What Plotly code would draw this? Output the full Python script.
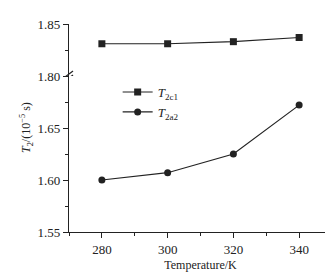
import plotly.graph_objects as go

temperature = [280, 300, 320, 340]
t2c1 = [1.831, 1.831, 1.833, 1.837]
t2a2 = [1.600, 1.607, 1.625, 1.672]
x_ticks = [280, 300, 320, 340]
y_low_ticks = [1.55, 1.60, 1.65]
y_high_ticks = [1.80, 1.85]

font = "Liberation Serif"
ink = "#222222"

fig = go.Figure()
fig.add_trace(go.Scatter(x=temperature, y=t2c1, yaxis="y2", mode="lines+markers",
                         name="<i>T</i><sub>2c1</sub>",
                         line=dict(color=ink, width=1.2),
                         marker=dict(symbol="square", size=7, color=ink)))
fig.add_trace(go.Scatter(x=temperature, y=t2a2, yaxis="y", mode="lines+markers",
                         name="<i>T</i><sub>2a2</sub>",
                         line=dict(color=ink, width=1.2),
                         marker=dict(symbol="circle", size=7, color=ink)))

axis_common = dict(showline=True, linecolor=ink, linewidth=1.2, ticks="outside",
                   ticklen=5, tickcolor=ink, showgrid=False, zeroline=False,
                   tickfont=dict(family=font, size=13, color=ink))

fig.update_layout(
    width=333, height=276,
    margin=dict(l=61, r=9, t=14, b=52),
    plot_bgcolor="white", paper_bgcolor="white",
    font=dict(family=font, color=ink),
    showlegend=True,
    legend=dict(x=0.185, y=0.745, xanchor="left", yanchor="top",
                bgcolor="rgba(0,0,0,0)", font=dict(family=font, size=13, color=ink),
                itemwidth=30, tracegroupgap=0),
    xaxis=dict(range=[270, 350], tickvals=x_ticks,
               minor=dict(dtick=10, tick0=270, ticks="outside", ticklen=3, tickcolor=ink),
               title=dict(text="Temperature/K", font=dict(family=font, size=12, color=ink), standoff=4),
               **axis_common),
    yaxis=dict(domain=[0, 0.75], range=[1.55, 1.70], tickvals=y_low_ticks, tickformat=".2f",
               minor=dict(tickvals=[1.575, 1.625, 1.675], ticks="outside", ticklen=3, tickcolor=ink),
               **axis_common),
    yaxis2=dict(domain=[0.75, 1], range=[1.80, 1.85], tickvals=y_high_ticks, tickformat=".2f",
                minor=dict(tickvals=[1.825], ticks="outside", ticklen=3, tickcolor=ink),
                anchor="x", **axis_common),
)

fig.add_annotation(text="<i>T</i><sub>2</sub>/(10<sup>−5</sup> s)", xref="paper", yref="paper",
                   x=0, y=0.5, xanchor="center", yanchor="middle", xshift=-43, textangle=-90,
                   showarrow=False, font=dict(family=font, size=12, color=ink))

# axis break marks at 1.80
for dy in (-2, 2):
    fig.add_shape(type="line", xref="paper", yref="y2",
                  xsizemode="pixel", xanchor=0, ysizemode="pixel", yanchor=1.80,
                  x0=-4, x1=4, y0=-3 + dy, y1=3 + dy,
                  line=dict(color=ink, width=1.2))

fig.write_html("out.html")
